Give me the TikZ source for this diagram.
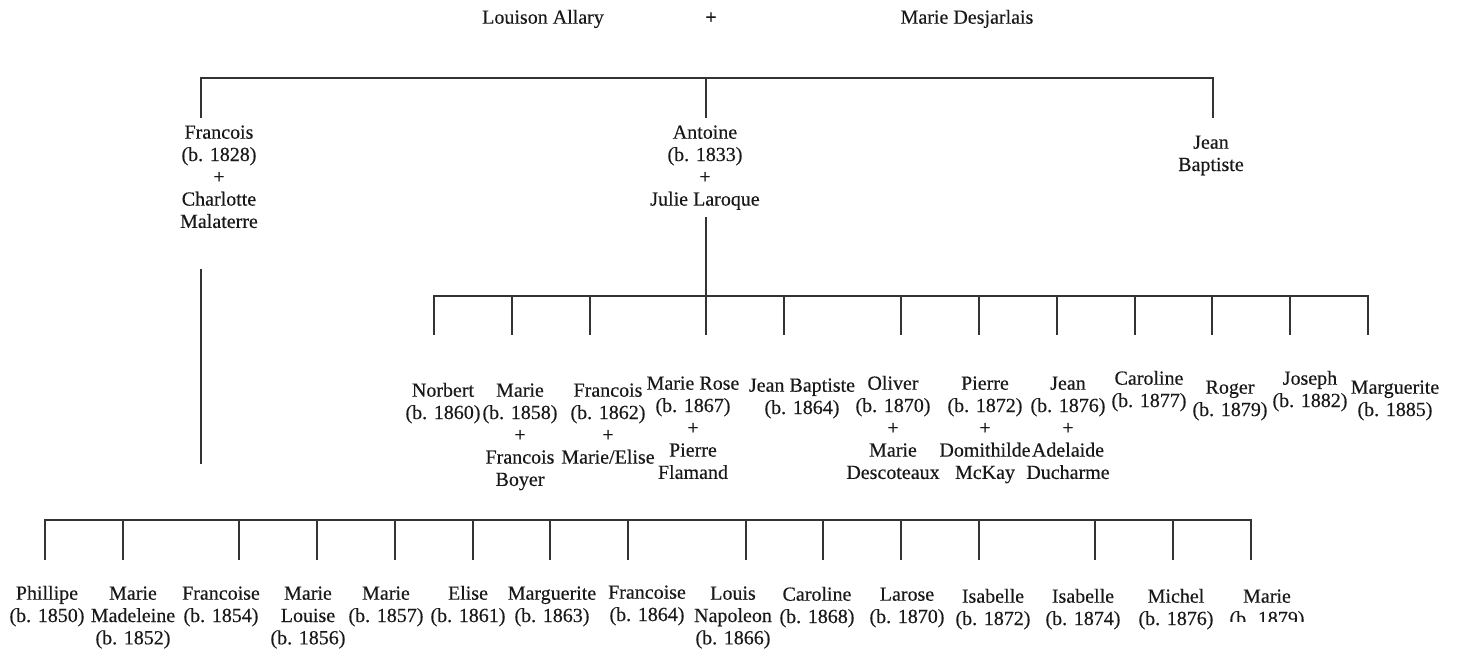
\documentclass[tikz,border=0pt]{standalone}
\usepackage{fontspec}
\setmainfont{Liberation Serif}[FakeBold=0.35]
\begin{document}
\begin{tikzpicture}[x=1pt,y=-1pt,
  person/.style={font=\fontsize{20}{22.3}\selectfont, align=center,
    inner sep=0pt, anchor=north, yshift=9.1pt, text=black!90},
  link/.style={line width=1.4pt, draw=black!80, line cap=rect}]
\useasboundingbox (0,0) rectangle (1457,650);

% ---- first generation
\node[person] (louison) at (543,17) {\strut Louison Allary};
\node[person] (wedplus) at (711,17) {\strut\textbf{+}};
\node[person] (desjarlais) at (967,17) {\strut Marie Desjarlais};

% ---- second generation
\node[person] (francois) at (219,132) {\strut Francois\\(b. 1828)\\+\\Charlotte\\Malaterre};
\node[person] (antoine) at (705,132) {\strut Antoine\\(b. 1833)\\+\\Julie Laroque};
\node[person] (jeanb) at (1211,142) {\strut Jean\\Baptiste};

\coordinate (topbar) at (706,78);
\coordinate (d-francois) at (201,117);
\coordinate (d-antoine) at (706,117);
\coordinate (d-jean) at (1213,117);
\draw[link] (d-francois) |- (topbar) -| (d-jean);
\draw[link] (topbar) -- (d-antoine);

% ---- children of Antoine and Julie Laroque
\node[person] (a1) at (443,390) {\strut Norbert\\(b. 1860)};
\node[person] (a2) at (520,390) {\strut Marie\\(b. 1858)\\+\\Francois\\Boyer};
\node[person] (a3) at (608,390) {\strut Francois\\(b. 1862)\\+\\Marie/Elise};
\node[person] (a4) at (693,383) {\strut Marie Rose\\(b. 1867)\\+\\Pierre\\Flamand};
\node[person] (a5) at (802,385) {\strut Jean Baptiste\\(b. 1864)};
\node[person] (a6) at (893,383) {\strut Oliver\\(b. 1870)\\+\\Marie\\Descoteaux};
\node[person] (a7) at (985,383) {\strut Pierre\\(b. 1872)\\+\\Domithilde\\McKay};
\node[person] (a8) at (1068,383) {\strut Jean\\(b. 1876)\\+\\Adelaide\\Ducharme};
\node[person] (a9) at (1149,378) {\strut Caroline\\(b. 1877)};
\node[person] (a10) at (1230,387) {\strut Roger\\(b. 1879)};
\node[person] (a11) at (1310,378) {\strut Joseph\\(b. 1882)};
\node[person] (a12) at (1395,387) {\strut Marguerite\\(b. 1885)};

\coordinate (a-stem) at (706,218);
\coordinate (abar) at (706,296);
\draw[link] (a-stem) -- (abar);
\foreach \i/\x in {1/434,2/512,3/590,4/706,5/784,6/901,7/979,8/1057,9/1135,10/1212,11/1290,12/1368}
  \coordinate (c\i) at (\x,334);
\draw[link] (c1 |- abar) -- (c12 |- abar);
\foreach \i in {1,...,12}
  \draw[link] (c\i |- abar) -- (c\i);

% ---- children of Francois and Charlotte Malaterre
\coordinate (f-stem-top) at (201,270);
\coordinate (f-stem-bot) at (201,463);
\draw[link] (f-stem-top) -- (f-stem-bot);

\node[person] (f1) at (47,593) {\strut Phillipe\\(b. 1850)};
\node[person] (f2) at (133,593) {\strut Marie\\Madeleine\\(b. 1852)};
\node[person] (f3) at (221,593) {\strut Francoise\\(b. 1854)};
\node[person] (f4) at (308,593) {\strut Marie\\Louise\\(b. 1856)};
\node[person] (f5) at (386,593) {\strut Marie\\(b. 1857)};
\node[person] (f6) at (468,593) {\strut Elise\\(b. 1861)};
\node[person] (f7) at (552,593) {\strut Marguerite\\(b. 1863)};
\node[person] (f8) at (647,592) {\strut Francoise\\(b. 1864)};
\node[person] (f9) at (733,593) {\strut Louis\\Napoleon\\(b. 1866)};
\node[person] (f10) at (817,594) {\strut Caroline\\(b. 1868)};
\node[person] (f11) at (907,594) {\strut Larose\\(b. 1870)};
\node[person] (f12) at (993,596) {\strut Isabelle\\(b. 1872)};
\node[person] (f13) at (1083,596) {\strut Isabelle\\(b. 1874)};
\node[person] (f14) at (1176,596) {\strut Michel\\(b. 1876)};
\begin{scope}
  \clip (1200,570) rectangle (1340,621);
  \node[person] (f15) at (1267,596) {\strut Marie\\(b. 1879)};
\end{scope}

\coordinate (fbar) at (45,520);
\foreach \i/\x in {1/45,2/123,3/239,4/317,5/395,6/473,7/550,8/628,9/746,10/823,11/901,12/979,13/1095,14/1173,15/1251}
  \coordinate (g\i) at (\x,559);
\draw[link] (g1 |- fbar) -- (g15 |- fbar);
\foreach \i in {1,...,15}
  \draw[link] (g\i |- fbar) -- (g\i);
\end{tikzpicture}
\end{document}
